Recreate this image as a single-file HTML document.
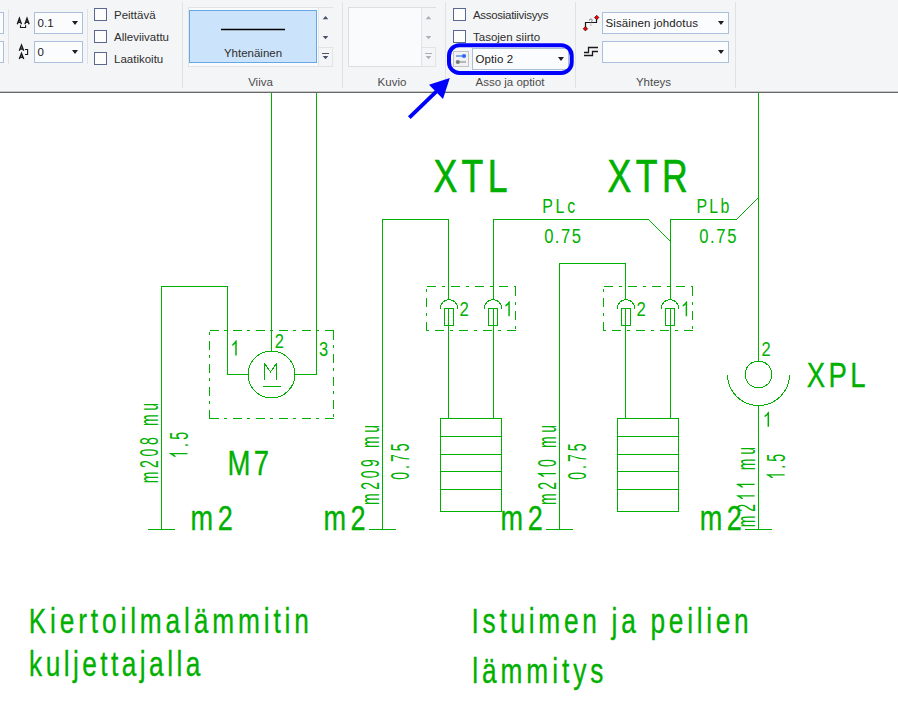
<!DOCTYPE html>
<html>
<head>
<meta charset="utf-8">
<title>Optio 2</title>
<style>
html,body{margin:0;padding:0;}
body{width:898px;height:725px;overflow:hidden;background:#fff;font-family:"Liberation Sans",sans-serif;position:relative;}
#ribbon{position:absolute;left:0;top:0;width:898px;height:91px;background:#f4f5f7;}
#rline{position:absolute;left:0;top:91px;width:898px;height:1px;background:#c6c6c6;}
#rline2{position:absolute;left:0;top:92px;width:898px;height:1px;background:#676767;}
.sep{position:absolute;width:1px;background:#e1e2e4;}
.combo{position:absolute;box-sizing:border-box;border:1px solid #abbfdb;background:#fbfcfe;height:22px;font-size:11.5px;letter-spacing:0.1px;color:#1a1a1a;line-height:20px;padding-left:2.5px;white-space:nowrap;}
.combo i{position:absolute;right:4px;top:8px;width:0;height:0;border-left:3px solid transparent;border-right:3px solid transparent;border-top:4px solid #1e1e1e;}
.chk{position:absolute;box-sizing:border-box;width:13px;height:13px;border:1px solid #58688f;background:#fdfdfe;}
.lbl{position:absolute;font-size:11.5px;color:#2e2e2e;white-space:nowrap;line-height:14px;}
.grp{position:absolute;font-size:11.5px;color:#4c4c4c;white-space:nowrap;line-height:14px;text-align:center;}
svg{position:absolute;left:0;top:0;}
</style>
</head>
<body>
<div id="ribbon">
  <!-- left cut-off boxes -->
  <div class="combo" style="left:-20px;top:12px;width:24px;"></div>
  <div class="combo" style="left:-20px;top:41px;width:24px;"></div>
  <div class="sep" style="left:8px;top:9px;height:55px;"></div>
  <div class="combo" style="left:34px;top:12px;width:49px;">0.1<i></i></div>
  <div class="combo" style="left:34px;top:41px;width:49px;">0<i></i></div>
  <div class="sep" style="left:87px;top:9px;height:55px;"></div>
  <div class="chk" style="left:94px;top:8px;"></div>
  <div class="chk" style="left:94px;top:30px;"></div>
  <div class="chk" style="left:94px;top:52px;"></div>
  <div class="lbl" style="left:114px;top:8px;">Peittävä</div>
  <div class="lbl" style="left:114px;top:30px;">Alleviivattu</div>
  <div class="lbl" style="left:114px;top:52px;">Laatikoitu</div>
  <div class="sep" style="left:182px;top:2px;height:86px;"></div>
  <!-- Viiva gallery -->
  <div style="position:absolute;left:188px;top:7px;width:145px;height:60px;box-sizing:border-box;border:1px solid #e2e3e5;background:#fafbfc;"></div>
  <div style="position:absolute;left:318px;top:8px;width:14px;height:58px;background:#f4f5f7;border-left:1px solid #e6e7e9;"></div>
  <div style="position:absolute;left:318px;top:47px;width:15px;height:20px;box-sizing:border-box;border:1px solid #e2e3e5;"></div>
  <div style="position:absolute;left:189px;top:10px;width:128px;height:53px;box-sizing:border-box;border:1px solid #66a7e8;background:#cce4fb;"></div>
  <div style="position:absolute;left:221px;top:29px;width:64px;height:1px;background:#000;box-shadow:0 -1px 0 rgba(0,0,0,0.25),0 1px 0 rgba(0,0,0,0.25);"></div>
  <div class="lbl" style="left:189px;top:46px;width:128px;text-align:center;">Yhtenäinen</div>
  <div class="grp" style="left:188px;top:75px;width:145px;">Viiva</div>
  <div class="sep" style="left:342px;top:2px;height:86px;"></div>
  <!-- Kuvio gallery -->
  <div style="position:absolute;left:348px;top:7px;width:88px;height:60px;box-sizing:border-box;border:1px solid #dddee0;background:#fafbfc;"></div>
  <div style="position:absolute;left:421px;top:8px;width:14px;height:58px;background:#f4f5f7;border-left:1px solid #e3e4e6;"></div>
  <div style="position:absolute;left:421px;top:47px;width:15px;height:20px;box-sizing:border-box;border:1px solid #e2e3e5;"></div>
  <div class="grp" style="left:348px;top:75px;width:88px;">Kuvio</div>
  <div class="sep" style="left:445px;top:2px;height:86px;"></div>
  <!-- Asso ja optiot -->
  <div class="chk" style="left:453px;top:8px;"></div>
  <div class="chk" style="left:453px;top:30px;"></div>
  <div class="lbl" style="left:473px;top:8px;letter-spacing:-0.3px;">Assosiatiivisyys</div>
  <div class="lbl" style="left:473px;top:30px;">Tasojen siirto</div>
  <div style="position:absolute;left:453px;top:51px;width:16px;height:16px;box-sizing:border-box;border:1px solid #c3c3c3;background:#f0f1f3;"></div>
  <div class="combo" style="left:472px;top:48px;width:97px;">Optio 2<i></i></div>
  <div class="grp" style="left:452px;top:75px;width:116px;">Asso ja optiot</div>
  <div class="sep" style="left:575px;top:2px;height:86px;"></div>
  <!-- Yhteys -->
  <div class="combo" style="left:602px;top:12px;width:127px;">Sisäinen johdotus<i></i></div>
  <div class="combo" style="left:602px;top:41px;width:127px;"><i></i></div>
  <div class="grp" style="left:602px;top:75px;width:103px;">Yhteys</div>
  <div class="sep" style="left:735px;top:2px;height:86px;"></div>
</div>
<div id="rline"></div>
<div id="rline2"></div>

<svg width="898" height="725" viewBox="0 0 898 725">
  <defs><path id="one" d="M763 0H583V-1147Q440 -1010 223 -918V-1092Q520 -1230 647 -1474H763Z"/></defs>
  <!-- ribbon icons -->
  <g id="icons" fill="none" stroke="#1a1a1a" stroke-width="1.1">
    <path d="M17.3 24.2L19.4 18.4L21.5 24.2M18.1 22.3H20.7" stroke-width="1.4"/>
    <path d="M24.9 24.2L27 18.4L29.1 24.2M25.7 22.3H28.3" stroke-width="1.4"/>
    <path d="M20.5 25.3V27.5H25.6V25.3"/>
    <path d="M19.3 50.8L21.5 45.2L23.7 50.8M20.1 49H22.9" stroke-width="1.4"/>
    <path d="M19.3 59L21.5 53.4L23.7 59M20.1 57.2H22.9" stroke-width="1.4"/>
    <path d="M25 49.5H27.6V54.5H25"/>
    <path d="M585.5 28V22.5H596.5V18" stroke-width="1.2"/>
    <path d="M589.2 20.6Q589.4 19 590.9 19Q592.4 19.2 592.2 20.6Q591.9 21.6 590.8 22.4V23.4M590.8 24.6V25.6" stroke="#777" stroke-width="1"/>
    <path d="M596.7 15.3L598.9 17.5L596.7 19.7L594.5 17.5Z" fill="#ff0000" stroke="#300000" stroke-width="0.7"/>
    <path d="M585.4 26.5L587.6 28.7L585.4 30.9L583.2 28.7Z" fill="#ff0000" stroke="#300000" stroke-width="0.7"/>
    <path d="M584 52.5H588.5V47.5H598" stroke-width="1.3"/>
    <path d="M584 55.5H592.5V51.5H598" stroke-width="1.3"/>
    <path d="M456 56H466" stroke="#6f95ee" stroke-width="1.6"/>
    <circle cx="464" cy="56" r="2.1" fill="#2f6bf0" stroke="none"/>
    <path d="M456 62H466" stroke="#a9a9a9" stroke-width="1.6"/>
    <circle cx="457.8" cy="62" r="2.1" fill="#7a7a7a" stroke="none"/>
    <g stroke="none" fill="#44546a">
      <path d="M322.7 19.2L325.5 16L328.3 19.2Z"/><path d="M322.7 36L328.3 36L325.5 39.2Z"/><path d="M322 53H329V54H322Z"/><path d="M322.7 56L328.3 56L325.5 59.2Z"/>
    </g>
    <g stroke="none" fill="#a9b0b9">
      <path d="M425.7 19.2L428.5 16L431.3 19.2Z"/><path d="M425.7 36L431.3 36L428.5 39.2Z"/><path d="M425 53H432V54H425Z"/><path d="M425.7 56L431.3 56L428.5 59.2Z"/>
    </g>
  </g>

  <!-- DIAGRAM -->
  <g id="lines" fill="none" stroke="#00b000" stroke-width="1" shape-rendering="crispEdges">
    <!-- motor section -->
    <path d="M271.5 93V351"/>
    <path d="M316.5 93V374.5H295"/>
    <path d="M161.5 529.5V286.5H227.5V374.5H248"/>
    <path d="M148 529.5H175"/>
    <path d="M264.5 380V363.5L270.5 372L276.5 363.5V380"/>
    <path d="M263 386.5H280.5"/>
    <!-- XTL -->
    <path d="M382.5 529.5V219.5H448.5V299.5"/>
    <path d="M369 529.5H396"/>
    <path d="M493.5 299.5V219.5H648.5L670.5 241.5"/>
    <path d="M444.5 308.5H453.5V325.5H444.5Z M448.5 308.5V418.5"/>
    <path d="M488.5 308.5H497.5V325.5H488.5Z M493.5 308.5V418.5"/>
    <path d="M440.5 418.5H501.5V511.5H440.5Z M440.5 436.5H501.5 M440.5 454.5H501.5 M440.5 471.5H501.5 M440.5 489.5H501.5"/>
    <!-- XTR -->
    <path d="M559.5 529.5V263.5H625.5V299.5"/>
    <path d="M546 529.5H573"/>
    <path d="M670.5 299.5V219.5H736.5L758.5 197.5"/>
    <path d="M621.5 308.5H630.5V325.5H621.5Z M625.5 308.5V418.5"/>
    <path d="M665.5 308.5H674.5V325.5H665.5Z M670.5 308.5V418.5"/>
    <path d="M617.5 418.5H678.5V511.5H617.5Z M617.5 436.5H678.5 M617.5 454.5H678.5 M617.5 471.5H678.5 M617.5 489.5H678.5"/>
    <!-- XPL -->
    <path d="M758.5 93V361"/>
    <path d="M758.5 405.5V529.5"/>
    <path d="M745 529.5H772"/>
  </g>
  <g id="dash" fill="none" stroke="#00b000" stroke-width="1" stroke-dasharray="9 6 3 6" shape-rendering="crispEdges">
    <g stroke-dasharray="9 5.5 3 5.5">
    <path d="M209.5 330.5H333.5"/><path d="M333.5 330.5V418.5"/><path d="M333.5 418.5H209.5"/><path d="M209.5 418.5V330.5"/>
    </g>
    <path d="M426.5 286.5H515.5"/><path d="M515.5 286.5V330.5"/><path d="M515.5 330.5H426.5"/><path d="M426.5 330.5V286.5"/>
    <path d="M603.5 286.5H692.5"/><path d="M692.5 286.5V330.5"/><path d="M692.5 330.5H603.5"/><path d="M603.5 330.5V286.5"/>
  </g>
  <g id="curves" fill="none" stroke="#00b000" stroke-width="1" shape-rendering="crispEdges">
    <circle cx="271.5" cy="374.5" r="23.4"/>
    <path d="M440.2 309A8.8 9.5 0 0 1 457.8 309"/>
    <path d="M484.2 309A8.8 9.5 0 0 1 501.8 309"/>
    <path d="M617.2 309A8.8 9.5 0 0 1 634.8 309"/>
    <path d="M661.2 309A8.8 9.5 0 0 1 678.8 309"/>
    <circle cx="758.5" cy="374.5" r="13.4"/>
    <path d="M727.5 374.5A31 31 0 0 0 789.5 374.5"/>
  </g>
  <g id="txt" fill="#00b000" font-family="Liberation Sans, sans-serif">
    <text transform="translate(433.50,191.70) scale(0.78,1)" font-size="45.64" x="0.00 36.02 69.49" stroke="#00b000" stroke-width="0.6" vector-effect="non-scaling-stroke" xml:space="preserve">XTL</text>
    <text transform="translate(607.50,191.70) scale(0.78,1)" font-size="45.64" x="0.00 36.26 69.96" stroke="#00b000" stroke-width="0.6" vector-effect="non-scaling-stroke" xml:space="preserve">XTR</text>
    <text transform="translate(542.19,212.70) scale(0.8,1)" font-size="19.91" x="0.00 16.78 31.36" xml:space="preserve">PLc</text>
    <text transform="translate(544.13,242.70) scale(0.8,1)" font-size="20.78" x="0.00 13.39 20.99 34.38" xml:space="preserve">0.75</text>
    <text transform="translate(696.39,212.70) scale(0.8,1)" font-size="19.91" x="0.00 16.17 30.14" xml:space="preserve">PLb</text>
    <text transform="translate(699.13,242.70) scale(0.8,1)" font-size="20.78" x="0.00 13.64 21.49 35.13" xml:space="preserve">0.75</text>
    <text transform="translate(227.58,474.65) scale(0.78,1)" font-size="35.32" x="0.00 33.41" stroke="#00b000" stroke-width="0.3" vector-effect="non-scaling-stroke" xml:space="preserve">M7</text>
    <text transform="translate(190.62,530.45) scale(0.78,1)" font-size="34.74" x="0.00 34.67" stroke="#00b000" stroke-width="0.3" vector-effect="non-scaling-stroke" xml:space="preserve">m2</text>
    <text transform="translate(323.62,530.45) scale(0.78,1)" font-size="34.74" x="0.00 34.42" stroke="#00b000" stroke-width="0.3" vector-effect="non-scaling-stroke" xml:space="preserve">m2</text>
    <text transform="translate(500.62,530.45) scale(0.78,1)" font-size="34.74" x="0.00 34.67" stroke="#00b000" stroke-width="0.3" vector-effect="non-scaling-stroke" xml:space="preserve">m2</text>
    <text transform="translate(699.82,530.45) scale(0.78,1)" font-size="34.74" x="0.00 34.67" stroke="#00b000" stroke-width="0.3" vector-effect="non-scaling-stroke" xml:space="preserve">m2</text>
    <text transform="translate(806.83,386.55) scale(0.78,1)" font-size="35.32" x="0.00 27.77 55.55" stroke="#00b000" stroke-width="0.3" vector-effect="non-scaling-stroke" xml:space="preserve">XPL</text>
    <use href="#one" transform="translate(230.46,355.50) scale(0.8,1) translate(0.00,0) scale(0.01029)"/>
    <text transform="translate(274.77,347.80) scale(0.8,1)" font-size="20.64" x="0.00" xml:space="preserve">2</text>
    <text transform="translate(318.88,355.50) scale(0.8,1)" font-size="20.64" x="0.00" xml:space="preserve">3</text>
    <text transform="translate(459.56,316.20) scale(0.8,1)" font-size="20.93" x="0.00" xml:space="preserve">2</text>
    <use href="#one" transform="translate(503.58,316.20) scale(0.8,1) translate(0.00,0) scale(0.01022)"/>
    <text transform="translate(636.56,316.20) scale(0.8,1)" font-size="20.93" x="0.00" xml:space="preserve">2</text>
    <use href="#one" transform="translate(680.88,316.20) scale(0.8,1) translate(0.00,0) scale(0.01022)"/>
    <text transform="translate(761.57,355.50) scale(0.8,1)" font-size="20.64" x="0.00" xml:space="preserve">2</text>
    <use href="#one" transform="translate(762.76,426.80) scale(0.8,1) translate(0.00,0) scale(0.01029)"/>
    <text transform="translate(157.80,483.34) rotate(-90) scale(0.56,1)" font-size="25.00" x="0.00 27.38 47.83 68.29 88.74 102.24 129.62" xml:space="preserve">m208 mu</text>
    <text transform="translate(187.50,458.34) rotate(-90) scale(0.56,1)" font-size="25.29" x="0.00 20.17 33.30" xml:space="preserve"> .5</text>
    <use href="#one" transform="translate(187.50,458.34) rotate(-90) scale(0.56,1) translate(0.00,0) scale(0.01235)"/>
    <text transform="translate(378.80,505.05) rotate(-90) scale(0.56,1)" font-size="25.00" x="0.00 27.32 47.71 68.11 88.50 101.94 129.26" xml:space="preserve">m209 mu</text>
    <text transform="translate(408.60,479.86) rotate(-90) scale(0.56,1)" font-size="25.00" x="0.00 19.37 31.79 51.16" xml:space="preserve">0.75</text>
    <text transform="translate(555.80,505.05) rotate(-90) scale(0.56,1)" font-size="25.00" x="0.00 27.32 47.71 68.11 88.50 101.94 129.26" xml:space="preserve">m2 0 mu</text>
    <use href="#one" transform="translate(555.80,505.05) rotate(-90) scale(0.56,1) translate(47.71,0) scale(0.01221)"/>
    <text transform="translate(585.60,479.86) rotate(-90) scale(0.56,1)" font-size="25.00" x="0.00 19.37 31.79 51.16" xml:space="preserve">0.75</text>
    <text transform="translate(754.60,527.15) rotate(-90) scale(0.56,1)" font-size="25.00" x="0.00 27.29 47.65 68.02 88.39 101.79 129.08" xml:space="preserve">m2   mu</text>
    <use href="#one" transform="translate(754.60,527.15) rotate(-90) scale(0.56,1) translate(47.65,0) scale(0.01221)"/>
    <use href="#one" transform="translate(754.60,527.15) rotate(-90) scale(0.56,1) translate(68.02,0) scale(0.01221)"/>
    <text transform="translate(784.60,479.54) rotate(-90) scale(0.56,1)" font-size="25.29" x="0.00 19.46 31.87" xml:space="preserve"> .5</text>
    <use href="#one" transform="translate(784.60,479.54) rotate(-90) scale(0.56,1) translate(0.00,0) scale(0.01235)"/>
    <text transform="translate(28.68,632.65) scale(0.75,1)" font-size="35.03" x="0.00 28.51 41.44 66.07 82.89 97.77 122.40 135.33 148.26 182.58 207.21 220.15 244.77 279.10 313.43 326.36 341.24 354.17" stroke="#00b000" stroke-width="0.3" vector-effect="non-scaling-stroke" xml:space="preserve">Kiertoilmalämmitin</text>
    <text transform="translate(29.08,676.45) scale(0.75,1)" font-size="35.03" x="0.00 22.10 46.17 58.53 70.90 94.97 109.28 123.60 147.67 160.03 184.10 196.47 208.84" stroke="#00b000" stroke-width="0.3" vector-effect="non-scaling-stroke" xml:space="preserve">kuljettajalla</text>
    <text transform="translate(471.62,632.65) scale(0.75,1)" font-size="35.03" x="0.00 14.68 37.14 51.83 76.26 88.99 123.12 147.55 171.98 186.66 199.39 223.82 238.50 262.93 287.36 300.09 312.83 325.56 349.99" stroke="#00b000" stroke-width="0.3" vector-effect="non-scaling-stroke" xml:space="preserve">Istuimen ja peilien</text>
    <text transform="translate(472.28,682.55) scale(0.75,1)" font-size="35.03" x="0.00 13.01 37.73 72.14 106.55 119.57 134.53 157.28" stroke="#00b000" stroke-width="0.3" vector-effect="non-scaling-stroke" xml:space="preserve">lämmitys</text>
  </g>

  <!-- blue highlight + arrow -->
  <rect x="449" y="45.2" width="122.7" height="27.8" rx="10.5" ry="10.5" fill="none" stroke="#0000ff" stroke-width="4"/>
  <line x1="409.3" y1="117.6" x2="437.5" y2="90.4" stroke="#0000ff" stroke-width="3.9"/>
  <polygon points="449.8,77.9 429,84.8 443,98.9" fill="#0000ff"/>
</svg>
</body>
</html>
